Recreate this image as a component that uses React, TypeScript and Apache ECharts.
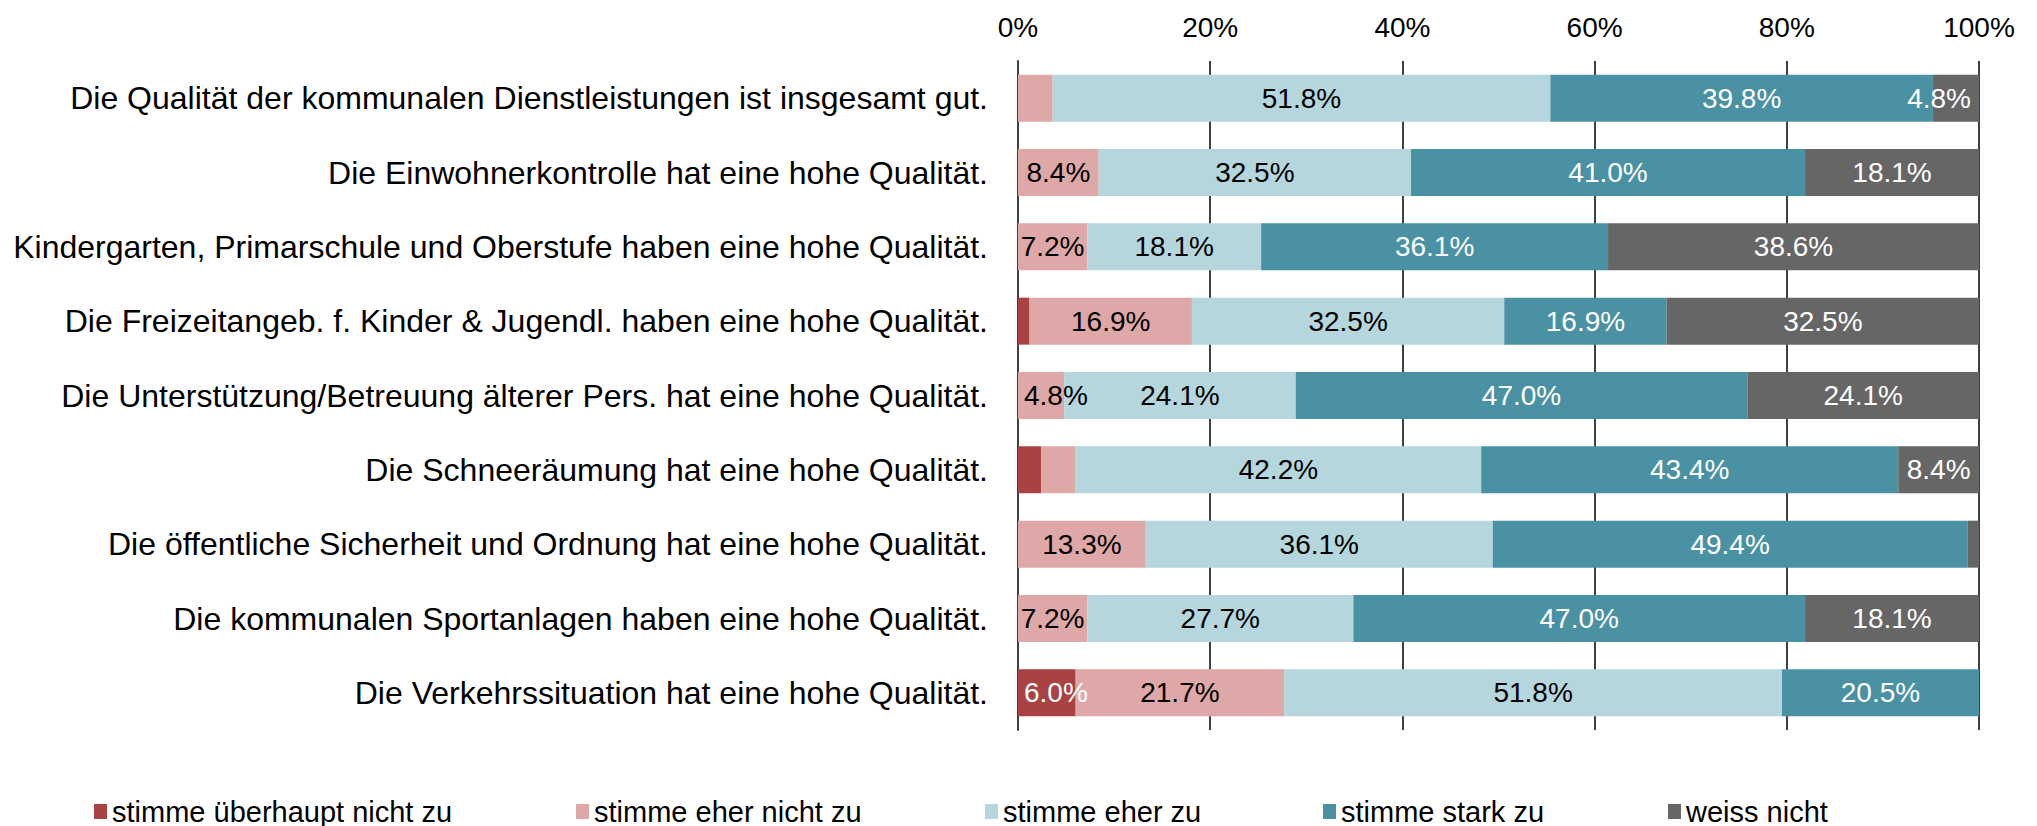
import React, { useEffect, useRef } from "react";
import * as echarts from "echarts";

const categories = [
  "Die Qualität der kommunalen Dienstleistungen ist insgesamt gut.",
  "Die Einwohnerkontrolle hat eine hohe Qualität.",
  "Kindergarten, Primarschule und Oberstufe haben eine hohe Qualität.",
  "Die Freizeitangeb. f. Kinder & Jugendl. haben eine hohe Qualität.",
  "Die Unterstützung/Betreuung älterer Pers. hat eine hohe Qualität.",
  "Die Schneeräumung hat eine hohe Qualität.",
  "Die öffentliche Sicherheit und Ordnung hat eine hohe Qualität.",
  "Die kommunalen Sportanlagen haben eine hohe Qualität.",
  "Die Verkehrssituation hat eine hohe Qualität.",
];

const seriesNames = [
  "stimme überhaupt nicht zu",
  "stimme eher nicht zu",
  "stimme eher zu",
  "stimme stark zu",
  "weiss nicht",
];

const ueberhauptNicht = [0, 0, 0, 1.2, 0, 2.4, 0, 0, 6.0];
const eherNicht = [3.6, 8.4, 7.2, 16.9, 4.8, 3.6, 13.3, 7.2, 21.7];
const eherZu = [51.8, 32.5, 18.1, 32.5, 24.1, 42.2, 36.1, 27.7, 51.8];
const starkZu = [39.8, 41.0, 36.1, 16.9, 47.0, 43.4, 49.4, 47.0, 20.5];
const weissNicht = [4.8, 18.1, 38.6, 32.5, 24.1, 8.4, 1.2, 18.1, 0];

const seriesValues = [ueberhauptNicht, eherNicht, eherZu, starkZu, weissNicht];
const colors = ["#A94343", "#DFA8A8", "#B5D6DD", "#4A91A3", "#666666"];
const labelColors = ["#ffffff", "#000000", "#000000", "#ffffff", "#ffffff"];
const legendLefts = [94, 576, 985, 1323, 1668];

const FONT = "Liberation Sans, Arial, sans-serif";

export default function App() {
  const ref = useRef<HTMLDivElement>(null);
  useEffect(() => {
    if (!ref.current) return;
    const chart = echarts.init(ref.current, undefined, { renderer: "svg" });

    const buildData = (si: number) =>
      seriesValues[si].map((v, ci) => {
        let start = 0;
        for (let k = 0; k < si; k++) start += seriesValues[k][ci];
        const end = start + v;
        const item: any = { value: v };
        if (v >= 4 && v < 7) {
          if (start < 0.05) {
            item.label = { position: "insideLeft", distance: 6 };
          } else if (end > 99.95) {
            item.label = { position: "insideRight", distance: 8 };
          }
        }
        return item;
      });

    const option: any = {
      animation: false,
      textStyle: { fontFamily: FONT },
      grid: { left: 1018, right: 58, top: 61, bottom: 96, containLabel: false },
      legend: seriesNames.map((n, i) => ({
        data: [n],
        left: legendLefts[i],
        top: 797,
        icon: "rect",
        itemWidth: 13,
        itemHeight: 15,
        itemGap: 6,
        padding: 0,
        textStyle: { fontSize: 29, color: "#000", fontFamily: FONT },
        selectedMode: false,
      })),
      xAxis: {
        type: "value",
        position: "top",
        min: 0,
        max: 100,
        interval: 20,
        axisLine: { show: false },
        axisTick: { show: false },
        axisLabel: {
          formatter: "{value}%",
          fontSize: 28,
          color: "#000",
          margin: 20,
          fontFamily: FONT,
        },
        splitLine: { show: true, lineStyle: { color: "#404040", width: 2 } },
      },
      yAxis: {
        type: "category",
        data: categories,
        inverse: true,
        axisLine: { show: true, lineStyle: { color: "#404040", width: 2 } },
        axisTick: { show: false },
        axisLabel: { fontSize: 32, color: "#000", margin: 30, fontFamily: FONT },
      },
      series: seriesNames.map((n, i) => ({
        name: n,
        type: "bar",
        stack: "total",
        barWidth: 47,
        data: buildData(i),
        itemStyle: { color: colors[i] },
        label: {
          show: true,
          position: "inside",
          fontSize: 28,
          color: labelColors[i],
          fontFamily: FONT,
          formatter: (p: any) => (p.value >= 4 ? p.value.toFixed(1) + "%" : ""),
        },
      })),
    };
    chart.setOption(option);
    return () => chart.dispose();
  }, []);
  return (
    <div
      ref={ref}
      style={{ position: "fixed", left: 0, top: 0, width: 2037, height: 826, background: "#fff" }}
    />
  );
}
